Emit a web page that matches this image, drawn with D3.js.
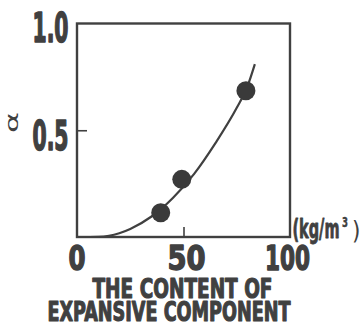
<!DOCTYPE html>
<html>
<head>
<meta charset="utf-8">
<script src="https://cdn.jsdelivr.net/npm/d3@7"></script>
<style>
html,body{margin:0;padding:0;background:#fff;}
svg{display:block;}
</style>
</head>
<body>
<svg id="chart" width="363" height="323"></svg>
<script>
// measured points
const pointX = [39.3, 49.2, 79.3];
const pointY = [0.114, 0.27, 0.685];
// fitted curve
const curveX = [4, 10, 15, 25, 35, 45, 55, 65, 75, 80, 83.5];
const curveY = [0, 0.001, 0.006, 0.038, 0.096, 0.183, 0.296, 0.44, 0.605, 0.705, 0.81];
// tick labels
const xTickValues = [0, 50, 100];
const xTickLabels = ["0", "50", "100"];
const yTickValues = [0.5, 1.0];
const yTickLabels = ["0.5", "1.0"];
const titleLines = ["THE CONTENT OF", "EXPANSIVE COMPONENT"];
const unitParts = ["(kg/m", "3", ")"];
const yAxisLabel = "α";

const ink = "#404040";
const font = "'DejaVu Sans Condensed','Liberation Sans Narrow','DejaVu Sans',sans-serif";

const svg = d3.select("#chart");
const x = d3.scaleLinear().domain([0, 100]).range([77, 290]);
const y = d3.scaleLinear().domain([0, 1]).range([237, 23.5]);

function heavy(sel, sw) {
  return sel.attr("font-family", font).attr("font-weight", "bold")
    .attr("fill", ink).attr("stroke", ink).attr("stroke-width", sw)
    .attr("stroke-linejoin", "round");
}

// frame
svg.append("rect")
  .attr("x", x(0)).attr("y", y(1))
  .attr("width", x(100) - x(0)).attr("height", y(0) - y(1))
  .attr("fill", "none").attr("stroke", ink).attr("stroke-width", 2.4);

// inward ticks via axes
const yAxis = d3.axisLeft(y).tickValues([0.5]).tickSize(-10).tickFormat("");
svg.append("g").attr("transform", `translate(${x(0)},0)`).call(yAxis)
  .call(g => g.select(".domain").remove())
  .call(g => g.selectAll("line").attr("stroke", ink).attr("stroke-width", 1.6));
const xAxis = d3.axisBottom(x).tickValues([50]).tickSize(-10).tickFormat("");
svg.append("g").attr("transform", `translate(0,${y(0)})`).call(xAxis)
  .call(g => g.select(".domain").remove())
  .call(g => g.selectAll("line").attr("stroke", ink).attr("stroke-width", 1.6));

// y tick labels
const yLabelOffsets = [20, 18.8];
svg.selectAll("text.ylab").data(yTickValues).join("text")
  .attr("class", "ylab")
  .attr("x", 32.5).attr("y", (d, i) => y(d) + yLabelOffsets[i])
  .attr("font-size", 41)
  .attr("textLength", 36).attr("lengthAdjust", "spacingAndGlyphs")
  .call(heavy, 1.6)
  .text((d, i) => yTickLabels[i]);

// x tick labels
const xLabelWidths = [17, 38, 45];
const xLabelCenters = [0, 3, -2.5];
svg.selectAll("text.xlab").data(xTickValues).join("text")
  .attr("class", "xlab")
  .attr("x", (d, i) => x(d) + xLabelCenters[i] - xLabelWidths[i] / 2)
  .attr("y", 269.5)
  .attr("font-size", 34)
  .attr("textLength", (d, i) => xLabelWidths[i]).attr("lengthAdjust", "spacingAndGlyphs")
  .call(heavy, 1.4)
  .text((d, i) => xTickLabels[i]);

// title
const titleX = [92.5, 47.5], titleW = [180, 243], titleY = [298, 321];
svg.selectAll("text.title").data(titleLines).join("text")
  .attr("class", "title")
  .attr("x", (d, i) => titleX[i]).attr("y", (d, i) => titleY[i])
  .attr("font-size", 26)
  .attr("textLength", (d, i) => titleW[i]).attr("lengthAdjust", "spacingAndGlyphs")
  .call(heavy, 1.1)
  .text(d => d);

// unit
svg.append("text")
  .attr("x", 292.5).attr("y", 238).attr("font-size", 26)
  .attr("textLength", 47).attr("lengthAdjust", "spacingAndGlyphs")
  .call(heavy, 0.8)
  .text(unitParts[0]);
svg.append("text")
  .attr("x", 342).attr("y", 227).attr("font-size", 14)
  .attr("textLength", 6).attr("lengthAdjust", "spacingAndGlyphs")
  .call(heavy, 0.4)
  .text(unitParts[1]);
svg.append("text")
  .attr("x", 352).attr("y", 239).attr("font-size", 24)
  .attr("font-family", font).attr("fill", ink)
  .text(unitParts[2]);

// alpha (rotated)
svg.append("text")
  .attr("transform", "translate(12.5,122.5) rotate(-90)")
  .attr("x", -10.5).attr("dy", "0.3em")
  .attr("font-family", "'DejaVu Sans',sans-serif").attr("font-size", 18)
  .attr("textLength", 21).attr("lengthAdjust", "spacingAndGlyphs")
  .attr("fill", ink)
  .text(yAxisLabel);

// curve
const line = d3.line().x(d => x(d[0])).y(d => y(d[1])).curve(d3.curveMonotoneX);
svg.append("path")
  .datum(curveX.map((v, i) => [v, curveY[i]]))
  .attr("d", line)
  .attr("fill", "none").attr("stroke", ink).attr("stroke-width", 2.2);

// points
svg.selectAll("circle.pt").data(pointX).join("circle")
  .attr("class", "pt")
  .attr("cx", d => x(d)).attr("cy", (d, i) => y(pointY[i]))
  .attr("r", 9.5).attr("fill", "#3a3a3a");
</script>
</body>
</html>
